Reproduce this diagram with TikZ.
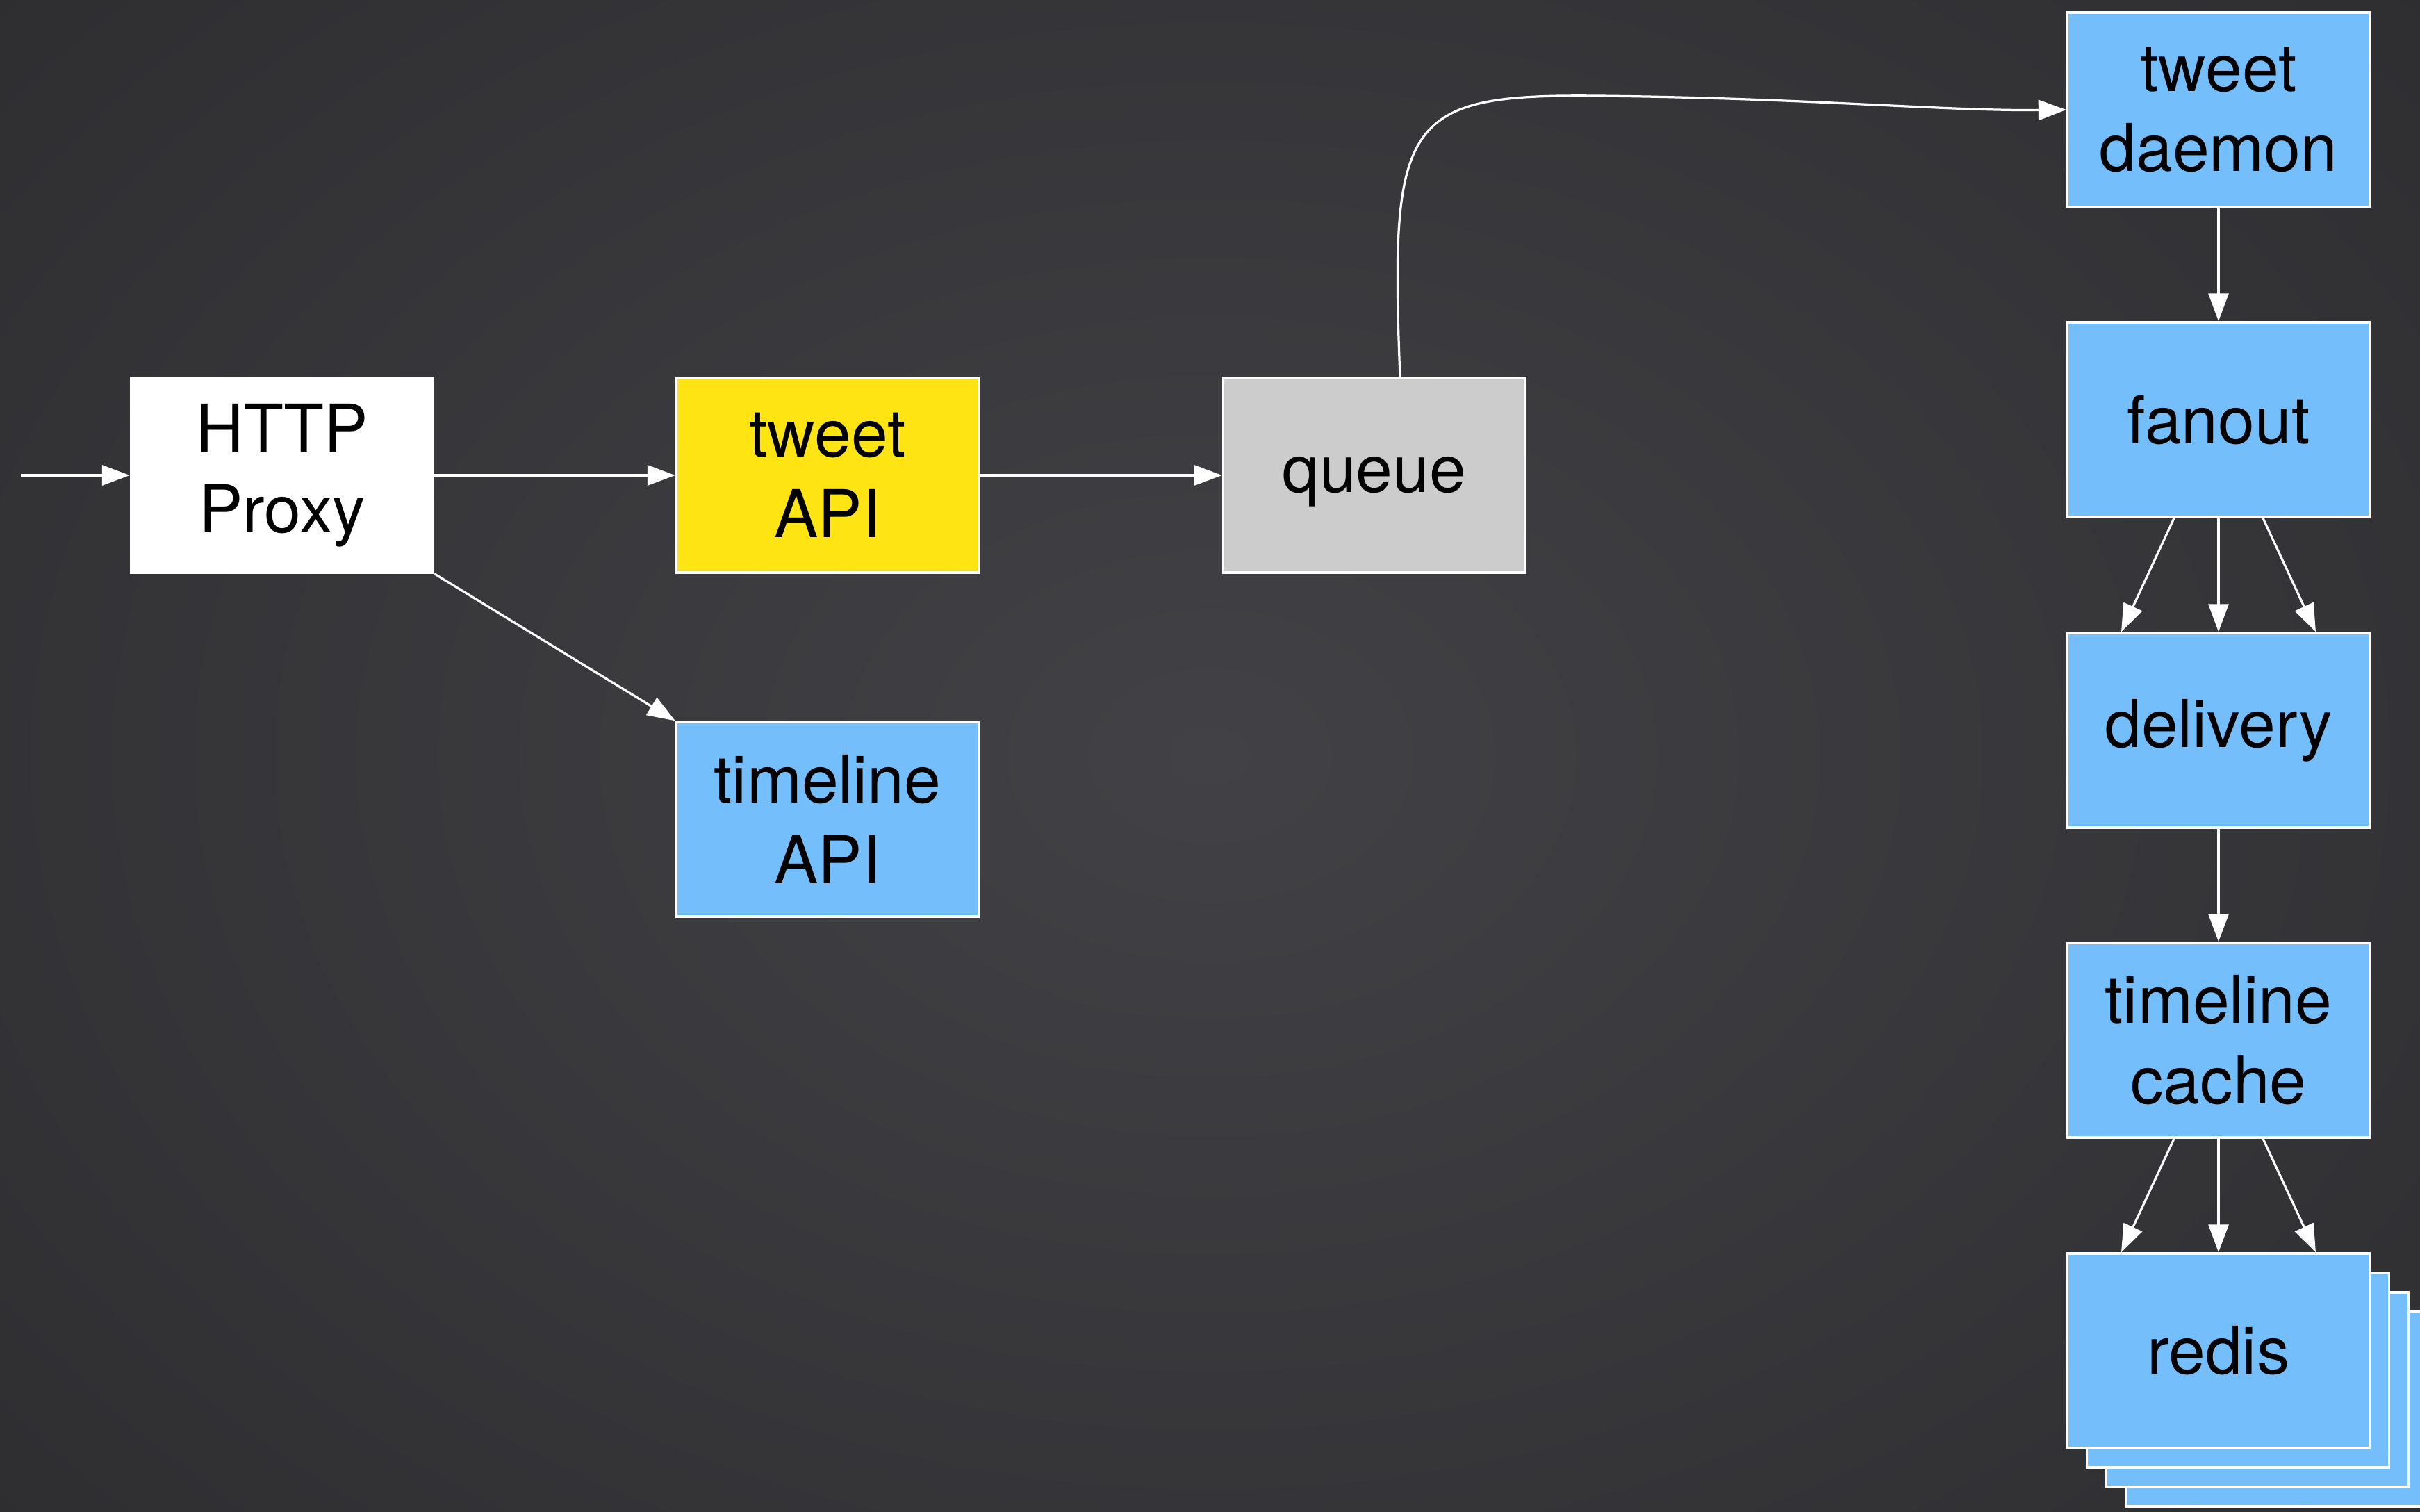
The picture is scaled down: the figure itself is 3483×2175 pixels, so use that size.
\documentclass[tikz,border=0pt]{standalone}
\usepackage{fontspec}
\setmainfont{TeX Gyre Heros}
\usetikzlibrary{arrows.meta}
\definecolor{bgin}{RGB}{66,66,70}
\definecolor{bgout}{RGB}{46,46,49}
\definecolor{boxblue}{RGB}{116,190,252}
\definecolor{boxyellow}{RGB}{255,228,20}
\definecolor{boxgray}{RGB}{204,204,204}
\newcommand{\boxfont}{\fontsize{54}{66}\selectfont}
\tikzset{
  box/.style={draw=white, line width=0.07cm, minimum width=8.7cm, minimum height=5.6cm,
    inner sep=0pt, align=center, font=\boxfont, text=black},
  bluebox/.style={box, fill=boxblue},
  conn/.style={draw=white, line width=0.065cm, -{Triangle[length=0.8cm,width=0.58cm]}}
}
\begin{document}
\begin{tikzpicture}[x=0.02cm, y=-0.02cm]
\useasboundingbox (0,0) rectangle (3483,2175);
\shade[inner color=bgin, outer color=bgout] (-600,-600) rectangle (4083,2775);
% nodes
\node[box, fill=white] (http) at (406,684) {HTTP\\Proxy};
\node[box, fill=boxyellow] (tapi) at (1191,684) {tweet\\API};
\node[box, fill=boxgray, text height=39pt, text depth=11pt] (queue) at (1978,684) {queue};
\node[bluebox] (tlapi) at (1191,1179) {timeline\\API};
\node[bluebox] (daemon) at (3193,158) {tweet\\daemon};
\node[bluebox] (fanout) at (3193,604) {fanout};
\node[bluebox] (delivery) at (3193,1051) {delivery};
\node[bluebox] (cache) at (3193,1497) {timeline\\cache};
\node[bluebox] (redisd) at (3277,2028) {};
\node[bluebox] (redisc) at (3249,2000) {};
\node[bluebox] (redisb) at (3221,1972) {};
\node[bluebox] (redis) at (3193,1944) {redis};
% connectors
\coordinate (in) at (30,684);
\draw[conn] (in) -- (http.west);
\draw[conn] (http.east) -- (tapi.west);
\draw[conn] (tapi.east) -- (queue.west);
\draw[conn] (http.south east) -- (tlapi.north west);
\coordinate (qout) at ([xshift=0.74cm]queue.north);
\draw[conn] (qout) .. controls (2000,170) and (2020,135) .. (2300,138)
  .. controls (2600,141) and (2800,160) .. (daemon.west);
\draw[conn] (daemon.south) -- (fanout.north);
\draw[conn] ([xshift=-1.28cm]fanout.south) -- ([xshift=-2.8cm]delivery.north);
\draw[conn] (fanout.south) -- (delivery.north);
\draw[conn] ([xshift=1.28cm]fanout.south) -- ([xshift=2.8cm]delivery.north);
\draw[conn] (delivery.south) -- (cache.north);
\draw[conn] ([xshift=-1.28cm]cache.south) -- ([xshift=-2.8cm]redis.north);
\draw[conn] (cache.south) -- (redis.north);
\draw[conn] ([xshift=1.28cm]cache.south) -- ([xshift=2.8cm]redis.north);
\end{tikzpicture}
\end{document}
